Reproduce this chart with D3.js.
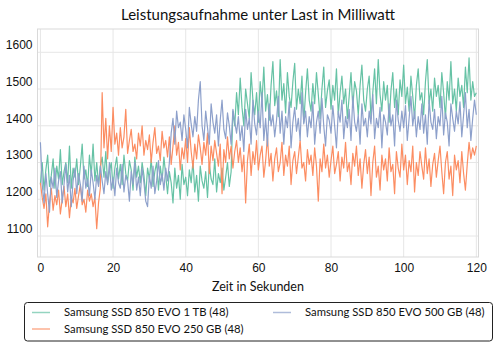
<!DOCTYPE html>
<html>
<head>
<meta charset="utf-8">
<script src="https://cdn.jsdelivr.net/npm/d3@7"></script>
<style>
  body { margin: 0; background: #fff; }
  svg { font-family: Lato, "DejaVu Sans", sans-serif; }
  .tick text { fill: #111; }
</style>
</head>
<body>
<div id="chart"></div>
<script>
// Zeitachse: alle 0,5 s von 0 bis 120
const step = 0.5;
const seriesNames = ['Samsung SSD 850 EVO 1 TB (48)', 'Samsung SSD 850 EVO 250 GB (48)', 'Samsung SSD 850 EVO 500 GB (48)'];
const seriesColors = ['#66c2a5', '#fc8d62', '#8da0cb'];
const xTicks = [0, 20, 40, 60, 80, 100, 120];
const yTicks = [1100, 1200, 1300, 1400, 1500, 1600];

// 1 TB (Milliwatt)
const evo1tb = [
  1240,1300,1225,1280,1320,1235,1265,1310,1230,1290,
  1255,1335,1240,1275,1300,1245,1345,1230,1285,1260,
  1310,1240,1290,1350,1255,1280,1235,1320,1265,1350,
  1250,1300,1240,1290,1315,1260,1330,1245,1275,1300,
  1230,1285,1315,1255,1295,1240,1320,1270,1250,1305,
  1280,1225,1315,1260,1290,1245,1300,1265,1210,1285,
  1255,1310,1235,1275,1300,1225,1290,1250,1315,1265,
  1215,1275,1245,1190,1285,1230,1265,1200,1295,1240,
  1260,1210,1280,1245,1305,1220,1265,1195,1290,1250,
  1230,1275,1205,1295,1255,1240,1310,1220,1270,1245,
  1285,1225,1260,1300,1235,1275,1440,1400,1490,1430,
  1530,1450,1400,1500,1460,1420,1545,1470,1430,1490,
  1410,1520,1465,1560,1440,1485,1415,1510,1575,1455,
  1495,1425,1580,1470,1515,1435,1545,1480,1450,1520,
  1570,1445,1500,1460,1535,1410,1490,1555,1470,1440,
  1515,1460,1545,1485,1420,1500,1560,1450,1495,1525,
  1445,1510,1470,1555,1430,1490,1535,1460,1500,1420,
  1480,1545,1450,1520,1495,1430,1510,1565,1470,1440,
  1500,1535,1420,1490,1555,1460,1580,1485,1440,1520,
  1470,1510,1410,1495,1545,1450,1500,1430,1525,1480,
  1565,1460,1505,1440,1535,1480,1420,1510,1555,1470,
  1490,1430,1520,1580,1460,1500,1440,1530,1480,1510,
  1450,1545,1490,1420,1520,1470,1575,1460,1500,1440,
  1530,1480,1510,1450,1560,1490,1585,1470,1520,1480,
  1490
];

// 250 GB
const evo250 = [
  1245,1205,1175,1215,1125,1190,1230,1170,1210,1185,
  1225,1160,1200,1235,1180,1215,1150,1205,1190,1230,
  1175,1210,1240,1185,1200,1165,1225,1195,1215,1180,
  1205,1120,1190,1230,1490,1340,1420,1310,1400,1330,
  1450,1350,1380,1320,1395,1340,1370,1445,1325,1360,
  1390,1330,1350,1310,1380,1345,1400,1320,1360,1335,
  1375,1300,1355,1395,1325,1345,1305,1385,1340,1360,
  1315,1370,1295,1345,1400,1320,1355,1280,1340,1310,
  1365,1300,1395,1330,1285,1350,1310,1375,1340,1295,
  1355,1320,1380,1270,1345,1305,1360,1325,1290,1350,
  1215,1335,1300,1370,1310,1345,1285,1330,1360,1300,
  1340,1275,1320,1190,1305,1350,1265,1330,1295,1360,
  1280,1320,1345,1260,1305,1370,1290,1325,1250,1310,
  1340,1275,1300,1355,1265,1320,1290,1345,1240,1305,
  1330,1270,1315,1360,1285,1300,1250,1335,1295,1320,
  1265,1340,1290,1195,1310,1275,1350,1285,1320,1260,
  1305,1345,1270,1295,1330,1250,1315,1285,1355,1275,
  1300,1240,1325,1290,1345,1265,1310,1230,1295,1335,
  1270,1315,1210,1300,1345,1260,1290,1225,1320,1280,
  1310,1250,1340,1275,1295,1215,1330,1285,1260,1350,
  1280,1320,1240,1305,1275,1345,1220,1300,1265,1330,
  1290,1255,1340,1270,1310,1235,1295,1325,1260,1305,
  1345,1275,1215,1300,1330,1255,1290,1210,1320,1280,
  1305,1245,1330,1270,1225,1295,1355,1310,1340,1320,
  1345
];

// 500 GB
const evo500 = [
  1355,1240,1190,1270,1215,1165,1260,1230,1285,1205,
  1250,1275,1190,1240,1295,1220,1265,1180,1250,1285,
  1215,1270,1240,1195,1290,1230,1255,1210,1280,1245,
  1200,1265,1235,1290,1250,1215,1275,1240,1300,1225,
  1260,1210,1285,1245,1230,1295,1220,1265,1250,1195,
  1275,1240,1300,1225,1260,1210,1285,1245,1195,1180,
  1265,1230,1290,1215,1250,1305,1240,1270,1225,1285,
  1250,1300,1380,1420,1350,1440,1395,1410,1360,1430,
  1390,1340,1450,1405,1370,1425,1385,1470,1520,1400,
  1360,1440,1395,1350,1460,1410,1380,1430,1345,1415,
  1470,1390,1365,1435,1400,1350,1445,1410,1380,1425,
  1360,1400,1330,1445,1390,1420,1350,1470,1405,1375,
  1440,1395,1490,1360,1420,1345,1460,1400,1430,1370,
  1415,1480,1380,1440,1350,1425,1395,1465,1340,1410,
  1450,1385,1420,1360,1490,1405,1440,1370,1425,1395,
  1465,1350,1410,1440,1380,1475,1400,1345,1430,1415,
  1380,1455,1400,1340,1440,1410,1470,1365,1425,1395,
  1445,1360,1480,1410,1385,1430,1350,1460,1400,1420,
  1370,1440,1405,1485,1365,1420,1395,1450,1340,1430,
  1410,1375,1460,1400,1430,1345,1470,1415,1385,1440,
  1395,1455,1360,1420,1480,1400,1440,1370,1425,1390,
  1460,1380,1430,1350,1470,1410,1390,1445,1365,1425,
  1400,1480,1375,1435,1410,1345,1460,1420,1385,1440,
  1405,1465,1370,1430,1490,1395,1445,1360,1420,1470,
  1430
];

const allSeries = [evo1tb, evo250, evo500];

const width = 500, height = 350;
// Plotbereich
const plot = { left: 37.5, right: 478.5, top: 29, bottom: 257 };

const svg = d3.select('#chart').append('svg')
    .attr('width', width)
    .attr('height', height);

const x = d3.scaleLinear()
    .domain([-0.8, 120.6])
    .range([plot.left, plot.right]);

// Gitterlinien 1100 -> 236px, 1600 -> 52.3px
const y = d3.scaleLinear()
    .domain([1100, 1600])
    .range([236, 52.3]);

// Hintergrund
svg.append('rect')
    .attr('x', plot.left).attr('y', plot.top)
    .attr('width', plot.right - plot.left)
    .attr('height', plot.bottom - plot.top)
    .attr('fill', '#fff');

// Gitter
const grid = svg.append('g').attr('class', 'grid');
grid.selectAll('line.v')
    .data(xTicks)
    .join('line')
    .attr('x1', d => x(d)).attr('x2', d => x(d))
    .attr('y1', plot.top).attr('y2', plot.bottom)
    .attr('stroke', '#e6e6e6').attr('stroke-width', 1);
grid.selectAll('line.h')
    .data(yTicks)
    .join('line')
    .attr('x1', plot.left).attr('x2', plot.right)
    .attr('y1', d => y(d)).attr('y2', d => y(d))
    .attr('stroke', '#e6e6e6').attr('stroke-width', 1);

// Linien
const line = d3.line()
    .x((d, i) => x(i * step))
    .y(d => y(d));

svg.append('g')
    .selectAll('path')
    .data(allSeries)
    .join('path')
    .attr('d', line)
    .attr('fill', 'none')
    .attr('stroke', (d, i) => seriesColors[i])
    .attr('stroke-width', 1.2)
    .attr('stroke-linejoin', 'round');

// Rahmen
svg.append('rect')
    .attr('x', plot.left).attr('y', plot.top)
    .attr('width', plot.right - plot.left)
    .attr('height', plot.bottom - plot.top)
    .attr('fill', 'none')
    .attr('stroke', '#d9d9d9');

// Achsen
const xAxis = svg.append('g')
    .attr('transform', `translate(0,${plot.bottom})`)
    .call(d3.axisBottom(x).tickValues(xTicks).tickSize(0).tickPadding(6));
xAxis.select('.domain').remove();
xAxis.selectAll('text').style('font-size', '12px');

const yAxis = svg.append('g')
    .attr('transform', `translate(${plot.left},0)`)
    .call(d3.axisLeft(y).tickValues(yTicks).tickFormat(d3.format('d')).tickSize(0).tickPadding(5));
yAxis.select('.domain').remove();
yAxis.selectAll('text')
    .style('font-size', '12px')
    .attr('dy', '-0.3em');

// Titel
svg.append('text')
    .attr('x', 258).attr('y', 20)
    .attr('text-anchor', 'middle')
    .style('font-size', '15px')
    .attr('fill', '#111')
    .text('Leistungsaufnahme unter Last in Milliwatt');

svg.append('text')
    .attr('x', 258).attr('y', 291)
    .attr('text-anchor', 'middle')
    .style('font-size', '12.5px')
    .attr('fill', '#111')
    .text('Zeit in Sekunden');

// Legende
const legend = svg.append('g').attr('class', 'legend');
legend.append('rect')
    .attr('x', 24.5).attr('y', 302.5)
    .attr('width', 468).attr('height', 38.5)
    .attr('rx', 3).attr('ry', 3)
    .attr('fill', '#fff')
    .attr('stroke', '#222');

const legendPos = [[32, 312.5], [32, 329], [273, 312.5]];
const items = legend.selectAll('g.item')
    .data(seriesNames)
    .join('g')
    .attr('class', 'item')
    .attr('transform', (d, i) => `translate(${legendPos[i][0]},${legendPos[i][1]})`);
items.append('line')
    .attr('x1', 0).attr('x2', 18)
    .attr('stroke', (d, i) => seriesColors[i])
    .attr('stroke-opacity', 0.7)
    .attr('stroke-width', 1.5);
items.append('text')
    .attr('x', 32).attr('dy', '0.35em')
    .style('font-size', '11.3px')
    .attr('fill', '#111')
    .text(d => d);
</script>
</body>
</html>
